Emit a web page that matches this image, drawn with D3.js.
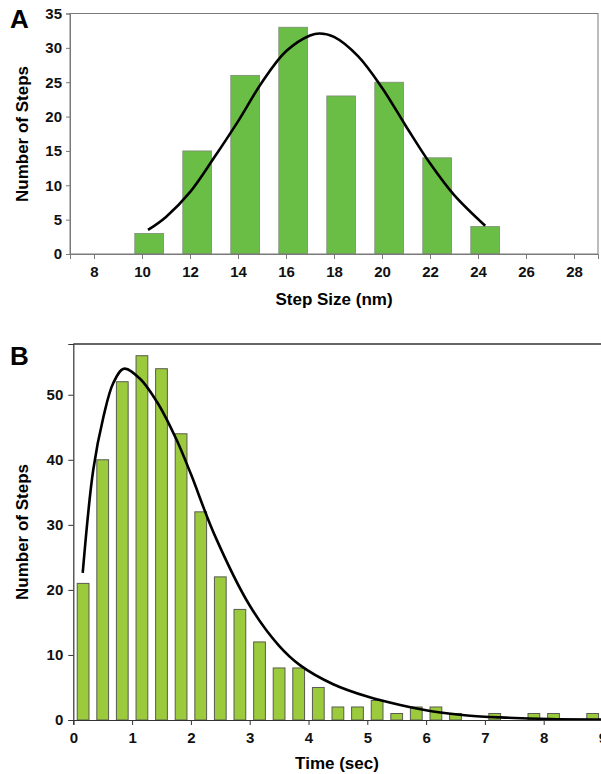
<!DOCTYPE html>
<html>
<head>
<meta charset="utf-8">
<script src="https://cdn.jsdelivr.net/npm/d3@7"></script>
<style>
  body { margin: 0; background: #fff; }
  svg { display: block; font-family: Arial, "Liberation Sans", sans-serif; font-weight: bold; }
</style>
</head>
<body>
<div id="chart"></div>
<script>
/* ── data ─────────────────────────────────────────────── */
// Panel A: step size histogram (nm)
const stepSizes  = [10, 12, 14, 16, 18, 20, 22, 24];
const stepCounts = [3, 15, 26, 33, 23, 25, 14, 4];
const stepTicks  = [8, 10, 12, 14, 16, 18, 20, 22, 24, 26, 28];
const stepYTicks = [0, 5, 10, 15, 20, 25, 30, 35];
// gaussian fit
const stepFitX = [10.25, 11, 12, 13, 14, 15, 16, 17, 17.4, 18, 19, 20, 21, 22, 23, 24.3];
const stepFitY = [3.5, 5.4, 9.0, 14.0, 19.3, 25.0, 29.5, 31.8, 32.1, 31.6, 28.8, 24.2, 18.6, 13.2, 8.6, 4.1];

// Panel B: dwell time histogram (sec)
const timeBins = [0.167, 0.5, 0.833, 1.167, 1.5, 1.833, 2.167, 2.5, 2.833, 3.167, 3.5, 3.833,
                  4.167, 4.5, 4.833, 5.167, 5.5, 5.833, 6.167, 6.5, 6.833, 7.167, 7.5, 7.833,
                  8.167, 8.5, 8.833];
const timeCounts = [21, 40, 52, 56, 54, 44, 32, 22, 17, 12, 8, 8,
                    5, 2, 2, 3, 1, 2, 2, 1, 0, 1, 0, 1,
                    1, 0, 1];
const timeTicks  = [0, 1, 2, 3, 4, 5, 6, 7, 8, 9];
const timeYTicks = [0, 10, 20, 30, 40, 50];
const timeFitX = [0.16, 0.34, 0.51, 0.68, 0.86, 1.13, 1.45, 1.76, 2.0, 2.4, 3.0, 3.5, 3.86,
                  4.42, 5.0, 5.56, 6.12, 6.7, 7.26, 8.1, 9.0, 9.2];
const timeFitY = [22.6, 38.5, 46.5, 51.8, 54.0, 52.5, 48.5, 43.0, 37.8, 28.5, 17.6, 11.4, 8.4,
                  5.5, 3.6, 2.3, 1.3, 0.7, 0.4, 0.15, 0.08, 0.07];

/* ── layout ───────────────────────────────────────────── */
const W = 601, H = 774;
const svg = d3.select('#chart').append('svg').attr('width', W).attr('height', H);

// ── panel A ───────────────────────────────────────────────
const xA = d3.scaleLinear().domain([7, 29]).range([70, 598]);
const yA = d3.scaleLinear().domain([0, 35]).range([254, 13.5]);

const gA = svg.append('g');

gA.selectAll('.barA').data(stepSizes).enter().append('rect')
  .attr('class', 'barA')
  .attr('x', (d) => xA(d - 0.3))
  .attr('width', (d) => xA(d + 0.9) - xA(d - 0.3))
  .attr('y', (d, i) => yA(stepCounts[i]))
  .attr('height', (d, i) => yA(0) - yA(stepCounts[i]))
  .attr('fill', '#6abd45').attr('stroke', '#7f8c78').attr('stroke-width', 0.8);

// frame
gA.append('rect')
  .attr('x', 70).attr('y', 13.5).attr('width', 528).attr('height', 240.5)
  .attr('fill', 'none').attr('stroke', '#7a7a7a').attr('stroke-width', 1);

const axA = gA.append('g').attr('transform', `translate(0,${yA(0)})`)
  .call(d3.axisBottom(xA).tickValues(stepTicks).tickSize(5).tickPadding(7));
const ayA = gA.append('g').attr('transform', `translate(${xA(7)},0)`)
  .call(d3.axisLeft(yA).tickValues(stepYTicks).tickSize(4).tickPadding(4));
[axA, ayA].forEach(a => {
  a.select('.domain').attr('stroke', '#7a7a7a');
  a.selectAll('line').attr('stroke', '#7a7a7a');
  a.selectAll('text').attr('font-size', 15).attr('font-weight', 'bold')
    .attr('font-family', 'Arial, "Liberation Sans", sans-serif').attr('fill', '#111');
});

gA.append('path')
  .datum(stepFitX.map((x, i) => [x, stepFitY[i]]))
  .attr('fill', 'none').attr('stroke', '#000').attr('stroke-width', 2.6)
  .attr('d', d3.line().x(d => xA(d[0])).y(d => yA(d[1])).curve(d3.curveCatmullRom));

svg.append('text').attr('x', 334).attr('y', 305).attr('text-anchor', 'middle')
  .attr('font-size', 17).text('Step Size (nm)');
svg.append('text').attr('transform', 'translate(28,134) rotate(-90)')
  .attr('text-anchor', 'middle').attr('font-size', 17).text('Number of Steps');
svg.append('text').attr('x', 10).attr('y', 28).attr('font-size', 26).text('A');

// ── panel B ───────────────────────────────────────────────
const xB = d3.scaleLinear().domain([0, 9]).range([73.3, 602.5]);
const yB = d3.scaleLinear().domain([0, 57.8]).range([720, 344]);

const gB = svg.append('g');

gB.selectAll('.barB').data(timeBins).enter().append('rect')
  .attr('class', 'barB')
  .attr('x', d => xB(d - 0.1))
  .attr('width', xB(0.2) - xB(0))
  .attr('y', (d, i) => yB(timeCounts[i]))
  .attr('height', (d, i) => yB(0) - yB(timeCounts[i]))
  .attr('fill', '#9bcb3c').attr('stroke', '#5a5a52').attr('stroke-width', 1);

gB.append('line').attr('x1', 73.3).attr('x2', W).attr('y1', 344).attr('y2', 344)
  .attr('stroke', '#333').attr('stroke-width', 1.5);

gB.append('path')
  .datum(timeFitX.map((x, i) => [x, timeFitY[i]]))
  .attr('fill', 'none').attr('stroke', '#000').attr('stroke-width', 2.6)
  .attr('d', d3.line().x(d => xB(d[0])).y(d => yB(d[1])).curve(d3.curveCatmullRom));

const axB = gB.append('g').attr('transform', `translate(0,${yB(0)})`)
  .call(d3.axisBottom(xB).tickValues(timeTicks).tickSize(5).tickPadding(7));
const ayB = gB.append('g').attr('transform', `translate(${xB(0)},0)`)
  .call(d3.axisLeft(yB).tickValues(timeYTicks).tickSize(5).tickPadding(5));
[axB, ayB].forEach(a => {
  a.select('.domain').attr('stroke', '#333').attr('stroke-width', 1.2);
  a.selectAll('line').attr('stroke', '#333');
  a.selectAll('text').attr('font-size', 15).attr('font-weight', 'bold')
    .attr('font-family', 'Arial, "Liberation Sans", sans-serif').attr('fill', '#111');
});

svg.append('text').attr('x', 337).attr('y', 769).attr('text-anchor', 'middle')
  .attr('font-size', 17).text('Time (sec)');
svg.append('text').attr('transform', 'translate(28,532) rotate(-90)')
  .attr('text-anchor', 'middle').attr('font-size', 17).text('Number of Steps');
svg.append('text').attr('x', 10).attr('y', 365).attr('font-size', 26).text('B');
</script>
</body>
</html>
